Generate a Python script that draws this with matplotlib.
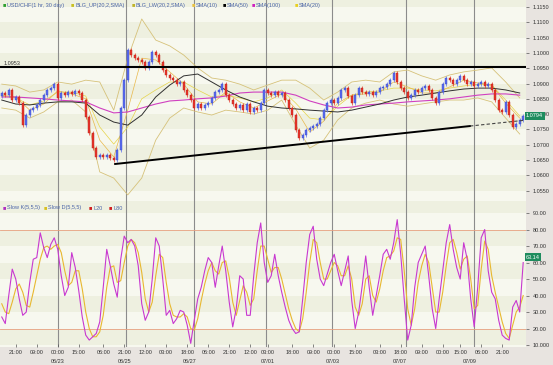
import matplotlib
matplotlib.use("Agg")
import matplotlib.pyplot as plt
import numpy as np

plt.rcParams['font.family'] = ['Liberation Sans', 'DejaVu Sans']

# ---------------- data ----------------
first_open = 1.0860
close = [
    1.0869, 1.0862, 1.0879, 1.0846, 1.0856, 1.0836, 1.0764, 1.0797, 1.0813, 1.0820,
    1.0830, 1.0846, 1.0862, 1.0879, 1.0885, 1.0898, 1.0853, 1.0869, 1.0862, 1.0872,
    1.0866, 1.0876, 1.0869, 1.0846, 1.0791, 1.0738, 1.0689, 1.0660, 1.0667, 1.0660,
    1.0667, 1.0657, 1.0650, 1.0683, 1.0820, 1.0911, 1.1010, 1.0993, 1.0983, 1.0977,
    1.0970, 1.0951, 1.0970, 1.1003, 1.0993, 1.0970, 1.0944, 1.0928, 1.0918, 1.0911,
    1.0898, 1.0905, 1.0879, 1.0862, 1.0846, 1.0820, 1.0833, 1.0820, 1.0830, 1.0836,
    1.0853, 1.0872, 1.0879, 1.0898, 1.0862, 1.0846, 1.0833, 1.0820, 1.0830, 1.0813,
    1.0833, 1.0807, 1.0820, 1.0813, 1.0836, 1.0879, 1.0869, 1.0862, 1.0872, 1.0862,
    1.0869, 1.0846, 1.0820, 1.0797, 1.0748, 1.0722, 1.0732, 1.0748, 1.0755, 1.0761,
    1.0768, 1.0787, 1.0813, 1.0836, 1.0846, 1.0836, 1.0853, 1.0879, 1.0885, 1.0859,
    1.0836, 1.0862, 1.0885, 1.0872, 1.0866, 1.0872, 1.0862, 1.0872, 1.0885, 1.0889,
    1.0898, 1.0911, 1.0934, 1.0905, 1.0885, 1.0872, 1.0853, 1.0862, 1.0879, 1.0872,
    1.0885, 1.0892, 1.0879, 1.0853, 1.0836, 1.0872, 1.0898, 1.0918, 1.0911, 1.0898,
    1.0911, 1.0924, 1.0911, 1.0898, 1.0905, 1.0892, 1.0898, 1.0905, 1.0892, 1.0898,
    1.0879, 1.0846, 1.0813, 1.0807, 1.0840, 1.0797, 1.0758, 1.0768, 1.0781, 1.0794,
]

# indicator lines sampled every 4th candle
ind_idx = list(range(0, 150, 4))
sma100 = [1.0856, 1.0856, 1.0853, 1.0850, 1.0846, 1.0843, 1.0840, 1.0820, 1.0804, 1.0807,
          1.0820, 1.0833, 1.0843, 1.0846, 1.0850, 1.0853, 1.0859, 1.0869, 1.0872, 1.0872,
          1.0872, 1.0862, 1.0843, 1.0830, 1.0820, 1.0823, 1.0830, 1.0833, 1.0836, 1.0840,
          1.0843, 1.0846, 1.0850, 1.0856, 1.0862, 1.0866, 1.0866, 1.0862]
sma50 = [1.0846, 1.0833, 1.0830, 1.0836, 1.0840, 1.0840, 1.0836, 1.0797, 1.0774, 1.0764,
         1.0797, 1.0856, 1.0895, 1.0925, 1.0931, 1.0905, 1.0879, 1.0856, 1.0840, 1.0826,
         1.0820, 1.0817, 1.0813, 1.0810, 1.0807, 1.0813, 1.0823, 1.0833, 1.0846, 1.0856,
         1.0862, 1.0869, 1.0876, 1.0882, 1.0885, 1.0885, 1.0879, 1.0869]
bb_up = [1.0898, 1.0892, 1.0872, 1.0879, 1.0905, 1.0898, 1.0911, 1.0905, 1.0813, 1.0983,
         1.1111, 1.1042, 1.1023, 1.0993, 1.0951, 1.0918, 1.0911, 1.0898, 1.0879, 1.0895,
         1.0911, 1.0911, 1.0885, 1.0846, 1.0872, 1.0905, 1.0911, 1.0905, 1.0938, 1.0944,
         1.0925, 1.0911, 1.0928, 1.0938, 1.0944, 1.0951, 1.0905, 1.0853]
bb_lw = [1.0820, 1.0813, 1.0787, 1.0807, 1.0840, 1.0846, 1.0807, 1.0611, 1.0591, 1.0536,
         1.0591, 1.0715, 1.0787, 1.0820, 1.0807, 1.0797, 1.0813, 1.0807, 1.0800, 1.0813,
         1.0846, 1.0764, 1.0689, 1.0715, 1.0781, 1.0820, 1.0836, 1.0846, 1.0833, 1.0826,
         1.0833, 1.0840, 1.0846, 1.0846, 1.0853, 1.0840, 1.0787, 1.0735]
sma20 = [1.0859, 1.0853, 1.0830, 1.0843, 1.0872, 1.0872, 1.0859, 1.0758, 1.0702, 1.0758,
         1.0850, 1.0879, 1.0905, 1.0905, 1.0879, 1.0856, 1.0862, 1.0853, 1.0840, 1.0853,
         1.0879, 1.0836, 1.0787, 1.0781, 1.0826, 1.0862, 1.0872, 1.0876, 1.0885, 1.0885,
         1.0879, 1.0876, 1.0885, 1.0892, 1.0898, 1.0895, 1.0846, 1.0794]
sma10 = [1.0862, 1.0856, 1.0813, 1.0833, 1.0876, 1.0866, 1.0850, 1.0715, 1.0660, 1.0813,
         1.0983, 1.0977, 1.0938, 1.0898, 1.0840, 1.0833, 1.0872, 1.0840, 1.0820, 1.0843,
         1.0866, 1.0817, 1.0741, 1.0777, 1.0836, 1.0862, 1.0866, 1.0872, 1.0905, 1.0889,
         1.0869, 1.0869, 1.0889, 1.0911, 1.0902, 1.0895, 1.0836, 1.0787]

resistance = 1.0953
trend_idx = [32.4, 133.8, 149.5]
trend_price = [1.0637, 1.0761, 1.0780]
last_price = 1.0794

slow_k = [
    27, 23, 40, 56, 50, 38, 28, 30, 48, 62, 63, 78, 69, 63, 71, 75, 68, 52, 40, 45,
    66, 57, 43, 27, 16, 13, 15, 17, 24, 45, 68, 58, 47, 39, 62, 76, 72, 74, 70, 58,
    35, 25, 30, 50, 75, 70, 50, 28, 31, 23, 26, 31, 30, 22, 11, 25, 38, 45, 55, 63,
    60, 45, 58, 70, 55, 36, 21, 32, 52, 50, 28, 28, 52, 72, 84, 60, 48, 52, 65, 52,
    42, 33, 25, 20, 17, 18, 38, 60, 77, 82, 62, 50, 46, 53, 60, 65, 55, 46, 55, 64,
    37, 20, 30, 46, 64, 45, 28, 40, 52, 65, 68, 62, 72, 86, 65, 38, 13, 22, 45, 60,
    65, 70, 52, 32, 20, 38, 55, 72, 83, 68, 57, 50, 72, 62, 38, 21, 45, 75, 80, 55,
    42, 38, 25, 16, 14, 13, 33, 37, 30, 60,
]
slow_d = [
    35, 30, 29, 36, 44, 47, 42, 34, 33, 42, 52, 62, 69, 70, 68, 70, 71, 66, 55, 46,
    48, 55, 55, 44, 30, 20, 15, 15, 18, 28, 45, 57, 58, 48, 49, 60, 70, 74, 72, 66,
    54, 38, 30, 36, 52, 65, 63, 48, 35, 28, 27, 27, 29, 27, 20, 19, 26, 37, 47, 55,
    60, 55, 53, 60, 61, 51, 36, 28, 37, 46, 42, 34, 38, 55, 70, 70, 62, 54, 57, 57,
    50, 41, 32, 25, 20, 18, 26, 42, 60, 74, 72, 60, 50, 50, 55, 60, 58, 52, 52, 58,
    50, 33, 28, 35, 50, 52, 40, 36, 44, 55, 63, 64, 67, 75, 74, 55, 32, 22, 32, 48,
    58, 65, 60, 45, 30, 30, 42, 58, 72, 74, 66, 56, 62, 64, 50, 32, 34, 56, 73, 68,
    52, 42, 33, 24, 17, 14, 22, 30, 33, 40,
]
last_k = 63.14

tick_idx = [4, 10, 16, 22, 29, 35, 41, 47, 53, 59, 65, 71, 76, 83, 89, 95, 101, 108,
            114, 120, 126, 131, 137, 143]
tick_labels = ['21:00', '09:00', '00:00', '15:00', '06:00', '21:00', '12:00', '03:00',
               '18:00', '06:00', '21:00', '12:00', '03:00', '18:00', '09:00', '00:00',
               '15:00', '03:00', '18:00', '09:00', '00:00', '15:00', '06:00', '21:00']
day_lines = [16, 35.5, 55, 75.5, 94.5, 115.5, 135]
date_idx = [16, 35.2, 53.8, 76, 94.6, 113.8, 133.8]
date_labels = ['06/23', '06/25', '06/27', '07/01', '07/03', '07/07', '07/09']

# ---------------- figure ----------------
W, H = 553, 365
fig = plt.figure(figsize=(W / 100, H / 100), dpi=100, facecolor='#e8e4e0')
ax = fig.add_axes([0, (H - 201) / H, 526 / W, 201 / H])
ax2 = fig.add_axes([0, (H - 347) / H, 526 / W, 146 / H])

BG1, BG2 = '#f7f8ef', '#eef0e0'
TXT = '#333333'
LEG = '#4a64a8'

close = np.array(close)
x = np.arange(len(close))
opens = np.r_[first_open, close[:-1]]
up = close >= opens

for a in (ax, ax2):
    a.set_facecolor(BG1)
    a.set_xlim(-0.5, 149.8)
    for s in a.spines.values():
        s.set_visible(False)
    for d in day_lines:
        a.axvline(d, color='#8c8c8c', lw=0.8, zorder=1)

# price panel bands
for i, lv in enumerate(np.arange(1.045, 1.125, 0.005)):
    if i % 2 == 0:
        ax.axhspan(lv, lv + 0.005, color=BG2, lw=0, zorder=0)
ax.set_ylim(1.0516, 1.1173)

ax.plot(ind_idx, bb_up, color='#d6c27a', lw=0.6, zorder=2)
ax.plot(ind_idx, bb_lw, color='#d6c27a', lw=0.6, zorder=2)
ax.plot(ind_idx, sma20, color='#e6d44a', lw=0.5, zorder=2)
ax.plot(ind_idx, sma10, color='#e8b84a', lw=0.5, zorder=2)
ax.plot(ind_idx, sma100, color='#d040c0', lw=0.8, zorder=2)
ax.plot(ind_idx, sma50, color='#303030', lw=0.7, zorder=2)

wick = 0.0006
col = np.where(up, '#5a6cf0', '#e8352b')
ax.vlines(x, np.minimum(opens, close) - wick, np.maximum(opens, close) + wick,
          colors=col, lw=0.5, zorder=3)
body = np.maximum(np.abs(close - opens), 0.00015)
ax.bar(x, body, bottom=np.minimum(opens, close), width=0.65, color=col,
       edgecolor=np.where(up, '#3a48c0', '#b82018'), lw=0.3, zorder=4)

ax.axhline(resistance, color='black', lw=1.5, zorder=5)
ax.text(0.6, resistance + 0.0004, f'{resistance:.4f}', fontsize=4, color=TXT,
        va='bottom', ha='left')
ax.plot(trend_idx[:2], trend_price[:2], color='black', lw=1.4, zorder=5)
ax.plot(trend_idx[1:], trend_price[1:], color='#444444', lw=0.8, ls=(0, (3, 2)), zorder=5)

ax.yaxis.tick_right()
ax.set_yticks(np.arange(1.055, 1.1151, 0.005))
ax.yaxis.set_major_formatter(plt.FormatStrFormatter('%.4f'))
ax.tick_params(axis='y', length=2, width=0.5, color='#555555', labelsize=4,
               labelcolor=TXT, pad=3)
ax.set_xticks([])
ax.text(1.0, last_price, f'{last_price:.4f}', transform=ax.get_yaxis_transform(),
        fontsize=4, color='white', va='center', ha='left', clip_on=False, zorder=10,
        bbox=dict(boxstyle='square,pad=0.25', fc='#1e8c5e', ec='none'))

# legend of price panel
top_items = [(3, '#2ea02e', 'USD/CHF(1 hr, 30 day)'), (71, '#c8c020', 'BLG_UP(20,2,SMA)'),
             (132, '#c0b428', 'BLG_LW(20,2,SMA)'), (192, '#e8c040', 'SMA(10)'),
             (223, '#000000', 'SMA(50)'), (252, '#d020c0', 'SMA(100)'),
             (295, '#e8d020', 'SMA(20)')]
for px, c, t in top_items:
    fig.text(px / W, 1 - 5 / H, '■', color=c, fontsize=4, va='center', ha='left')
    fig.text((px + 4) / W, 1 - 5 / H, t, color=LEG, fontsize=4, va='center', ha='left')

# stochastic panel
for i, lv in enumerate(np.arange(0, 100, 10)):
    if i % 2 == 1:
        ax2.axhspan(lv, lv + 10, color=BG2, lw=0, zorder=0)
ax2.set_ylim(8.8, 97.3)
ax2.axhline(20, color='#e8a080', lw=0.6, zorder=2)
ax2.axhline(80, color='#e8a080', lw=0.6, zorder=2)
ax2.plot(x, slow_d, color='#e8b830', lw=0.8, zorder=3)
ax2.plot(x, slow_k, color='#c838d0', lw=0.8, zorder=4)

ax2.yaxis.tick_right()
ax2.set_yticks(np.arange(10, 91, 10))
ax2.set_yticklabels(['10.000'] + [f'{v:.2f}' for v in range(20, 91, 10)])
ax2.tick_params(axis='y', length=2, width=0.5, color='#555555', labelsize=4,
                labelcolor=TXT, pad=3)
ax2.set_xticks(tick_idx)
ax2.set_xticklabels(tick_labels)
ax2.tick_params(axis='x', direction='in', length=2, width=0.5, color='#555555',
                labelsize=4, labelcolor=TXT, pad=2)
for di, dl in zip(date_idx, date_labels):
    ax2.text(di, -0.1, dl, transform=ax2.get_xaxis_transform(), fontsize=4,
             color=TXT, ha='center', va='center')
ax2.text(1.0, last_k, f'{last_k:.2f}', transform=ax2.get_yaxis_transform(),
         fontsize=4, color='white', va='center', ha='left', clip_on=False, zorder=10,
         bbox=dict(boxstyle='square,pad=0.25', fc='#1e8c5e', ec='none'))

bot_items = [(3, '#b030c0', 'Slow K(5,5,5)'), (44, '#d8c020', 'Slow D(5,5,5)'),
             (89, '#d02020', 'L20'), (109, '#d02020', 'L80')]
for px, c, t in bot_items:
    fig.text(px / W, 1 - 208 / H, '■', color=c, fontsize=4, va='center', ha='left')
    fig.text((px + 4) / W, 1 - 208 / H, t, color=LEG, fontsize=4, va='center', ha='left')

fig.savefig('out.png', dpi=100, facecolor=fig.get_facecolor())
